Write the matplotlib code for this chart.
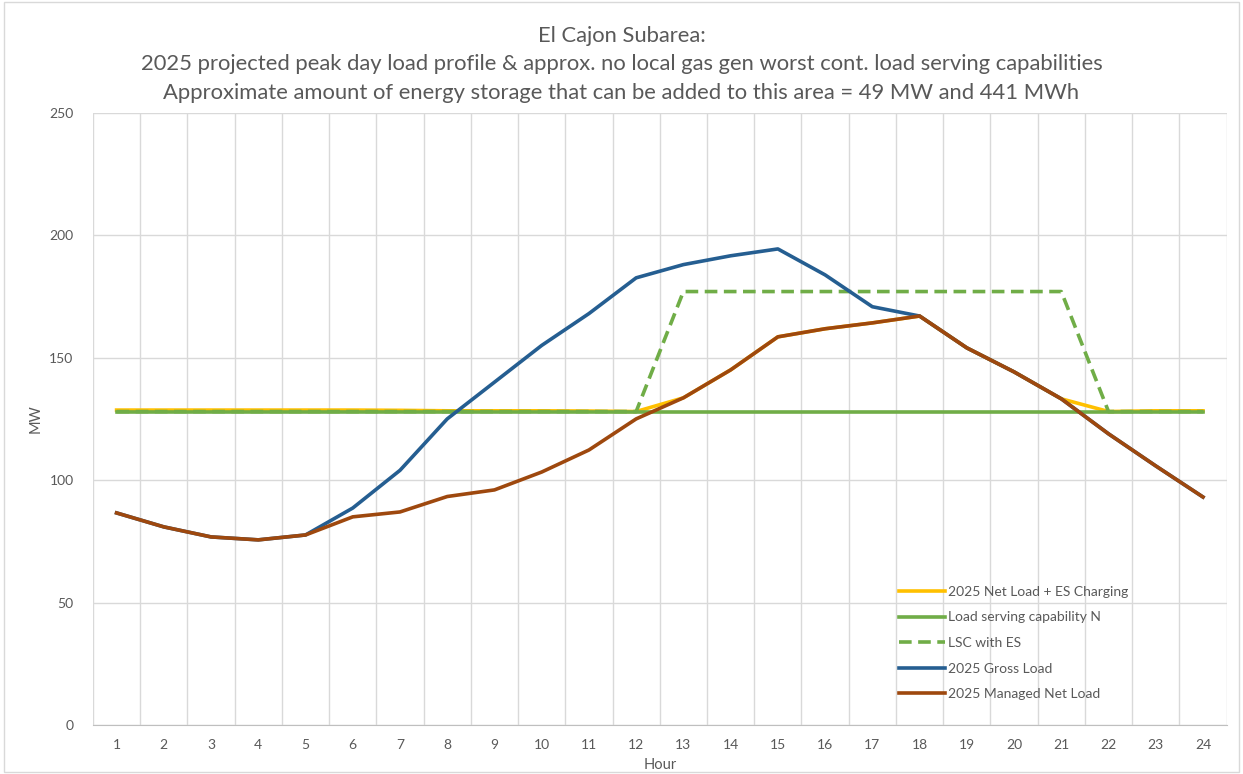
import matplotlib.pyplot as plt
import numpy as np

plt.rcParams['font.family'] = ['Lato', 'DejaVu Sans']

hours = list(range(1, 25))
net_plus_charging = [128.6, 128.6, 128.6, 128.6, 128.6, 128.6, 128.5, 128.3, 128.3, 128.3, 128.2, 128.0,
                     133.6, 145.0, 158.5, 161.8, 164.2, 167.0, 154.0, 144.2, 133.2, 128.0, 128.3, 128.3]
lsc_n = [128] * 24
lsc_with_es = [128] * 12 + [177] * 9 + [128] * 3
gross_load = [86.6, 80.9, 76.8, 75.6, 77.6, 88.6, 104.0, 125.0, 140.0, 155.0, 168.0, 182.6,
              188.0, 191.6, 194.4, 183.8, 170.8, 167.0, 154.0, 144.2, 133.2, 118.9, 105.8, 93.1]
managed_net = [86.6, 80.9, 76.8, 75.6, 77.6, 85.0, 87.0, 93.3, 96.0, 103.3, 112.3, 125.0,
               133.6, 145.0, 158.5, 161.8, 164.2, 167.0, 154.0, 144.2, 133.2, 118.9, 105.8, 93.1]

title = ("El Cajon Subarea:\n"
         "2025 projected peak day load profile & approx. no local gas gen worst cont. load serving capabilities\n"
         "Approximate amount of energy storage that can be added to this area = 49 MW and 441 MWh")

txt = '#595959'
grid = '#D9D9D9'

fig = plt.figure(figsize=(12.43, 7.74), dpi=100)
ax = fig.add_axes([0.0748, 0.0633, 0.912, 0.791])

lw = 2.6
ax.plot(hours, net_plus_charging, color='#FFC000', lw=lw, label='2025 Net Load + ES Charging')
ax.plot(hours, lsc_n, color='#70AD47', lw=lw, label='Load serving capability N')
ax.plot(hours, lsc_with_es, color='#70AD47', lw=lw, ls=(0, (3.5, 1.8)), label='LSC with ES')
ax.plot(hours, gross_load, color='#255E91', lw=lw, label='2025 Gross Load')
ax.plot(hours, managed_net, color='#9E480E', lw=lw, label='2025 Managed Net Load')

ax.set_xlim(0.5, 24.5)
ax.set_ylim(0, 250)
ax.set_yticks(np.arange(0, 251, 50))
ax.set_xticks(hours)
ax.set_xticks(np.arange(0.5, 25, 1), minor=True)
ax.grid(False)
ax.grid(True, axis='y', which='major', color=grid, lw=1)
ax.grid(True, axis='x', which='minor', color=grid, lw=1)
ax.set_axisbelow(True)
for s in ['top', 'right', 'left']:
    ax.spines[s].set_visible(False)
ax.spines['bottom'].set_color('#BFBFBF')
ax.tick_params(axis='both', which='both', length=0, colors=txt, labelsize=10)
ax.tick_params(axis='x', pad=10)
ax.tick_params(axis='y', pad=14)

ax.set_xlabel('Hour', color=txt, fontsize=10.5, labelpad=5)
ax.set_ylabel('MW', color=txt, fontsize=10.5)
ax.yaxis.set_label_coords(-0.044, 0.5)
fig.suptitle(title, color=txt, fontsize=15.8, y=0.967, linespacing=1.55)

leg = ax.legend(loc='lower left', bbox_to_anchor=(0.7, 0.02), frameon=False, fontsize=10,
                handlelength=3.3, handletextpad=0.25, labelspacing=0.98, labelcolor=txt)

fig.patches.append(plt.Rectangle((0.003, 0.003), 0.994, 0.994, transform=fig.transFigure,
                                 fill=False, edgecolor='#D9D9D9', lw=1))
fig.savefig('out.png', dpi=100)
